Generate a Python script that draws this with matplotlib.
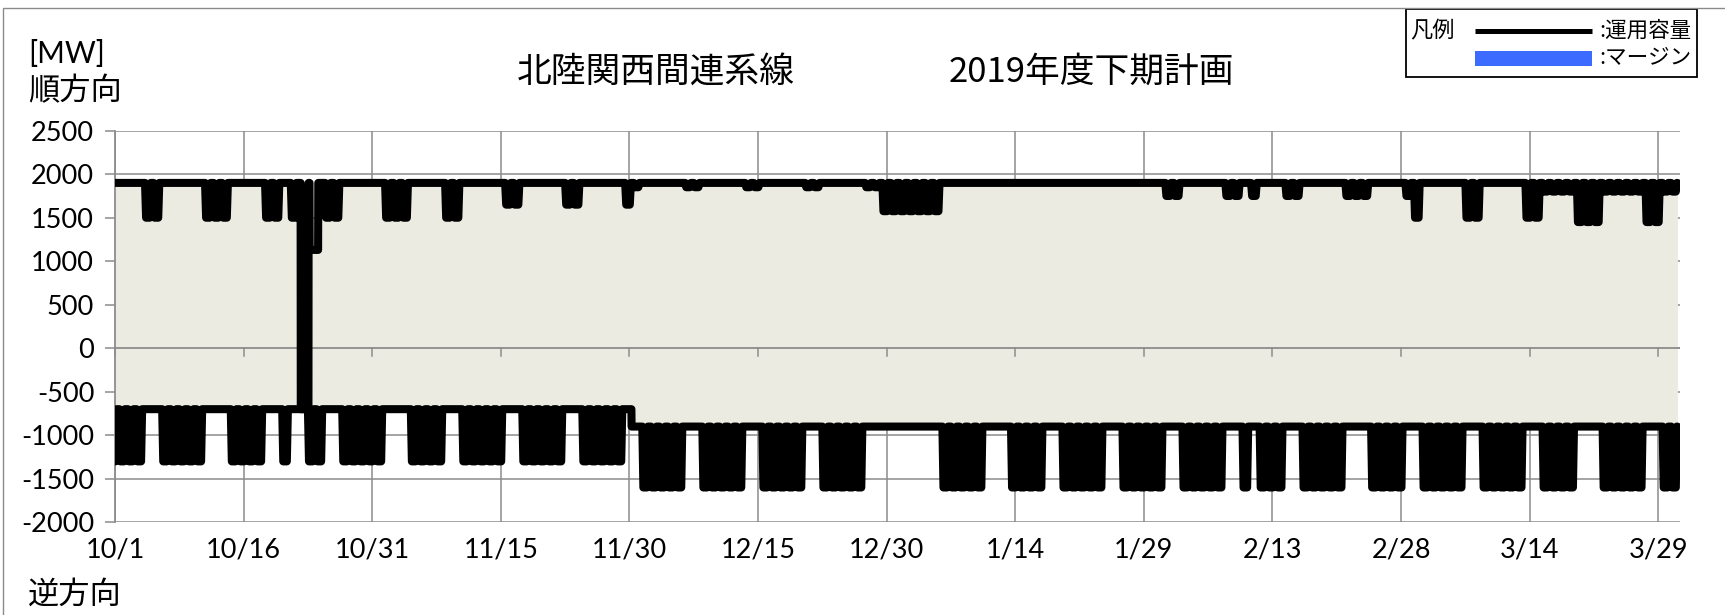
import numpy as np
import pandas as pd
import matplotlib
matplotlib.use('Agg')
import matplotlib.pyplot as plt
from matplotlib.patches import Rectangle
from matplotlib.lines import Line2D

JP = ['Noto Sans CJK JP', 'DejaVu Sans']
NUM = ['Lato', 'Noto Sans CJK JP', 'DejaVu Sans']

W, H = 1725, 615

# ---------------- data (MW, 30 min steps) ----------------
period_start = '2019-10-01'
period_end = '2020-03-31'

# shape of one day: 0 = night value, 1 = daytime value (hour knots)
day_shape_h = [0, 6, 9, 19, 22, 24]
day_shape_w = [0, 0, 1, 1, 0, 0]
label_lag = 0.75                  # date labels sit ~18 h after each day's first slot

# forward direction (順方向): 1900 at night, daytime value below on the listed days
fwd_night = 1900
fwd_day_normal = 1900
fwd_day_changes = [  # (first day, last day, daytime MW)
    ('2019-10-05', '2019-10-06', 1500),
    ('2019-10-12', '2019-10-14', 1500),
    ('2019-10-19', '2019-10-20', 1500),
    ('2019-10-22', '2019-10-22', 1500),
    ('2019-10-26', '2019-10-27', 1500),
    ('2019-11-02', '2019-11-04', 1500),
    ('2019-11-09', '2019-11-10', 1500),
    ('2019-11-16', '2019-11-17', 1650),
    ('2019-11-23', '2019-11-24', 1650),
    ('2019-11-30', '2019-11-30', 1650),
    ('2019-12-01', '2019-12-01', 1850),
    ('2019-12-07', '2019-12-08', 1850),
    ('2019-12-14', '2019-12-15', 1850),
    ('2019-12-21', '2019-12-22', 1850),
    ('2019-12-28', '2019-12-29', 1850),
    ('2019-12-30', '2020-01-05', 1575),
    ('2020-02-01', '2020-02-02', 1750),
    ('2020-02-08', '2020-02-09', 1750),
    ('2020-02-11', '2020-02-11', 1750),
    ('2020-02-15', '2020-02-16', 1750),
    ('2020-02-22', '2020-02-24', 1750),
    ('2020-02-29', '2020-02-29', 1750),
    ('2020-03-01', '2020-03-01', 1500),
    ('2020-03-07', '2020-03-08', 1500),
    ('2020-03-14', '2020-03-15', 1500),
    ('2020-03-16', '2020-03-19', 1800),
    ('2020-03-20', '2020-03-22', 1450),
    ('2020-03-23', '2020-03-27', 1800),
    ('2020-03-28', '2020-03-29', 1450),
    ('2020-03-30', '2020-03-31', 1800),
]
fwd_event = [  # (from, to, MW) excursion around 10/23
    ('2019-10-23 10:00', '2019-10-24 08:00', -700),
    ('2019-10-24 08:00', '2019-10-24 11:00', 1900),
    ('2019-10-24 11:00', '2019-10-25 11:00', 1130),
]

# reverse direction (逆方向): night level, daytime level on business days
rev_levels = [  # (from day, night MW, business-day daytime MW)
    ('2019-10-01', -700, -1300),
    ('2019-12-01', -900, -1600),
]
rev_dip_days = [  # (first day, last day)
    ('2019-10-01', '2019-10-04'), ('2019-10-07', '2019-10-11'),
    ('2019-10-15', '2019-10-18'), ('2019-10-21', '2019-10-21'),
    ('2019-10-24', '2019-10-25'), ('2019-10-28', '2019-11-01'),
    ('2019-11-05', '2019-11-08'), ('2019-11-11', '2019-11-15'),
    ('2019-11-18', '2019-11-22'), ('2019-11-25', '2019-11-29'),
    ('2019-12-02', '2019-12-06'), ('2019-12-09', '2019-12-13'),
    ('2019-12-16', '2019-12-20'), ('2019-12-23', '2019-12-27'),
    ('2020-01-06', '2020-01-10'), ('2020-01-14', '2020-01-17'),
    ('2020-01-20', '2020-01-24'), ('2020-01-27', '2020-01-31'),
    ('2020-02-03', '2020-02-07'), ('2020-02-10', '2020-02-10'),
    ('2020-02-12', '2020-02-14'), ('2020-02-17', '2020-02-21'),
    ('2020-02-25', '2020-02-28'), ('2020-03-02', '2020-03-06'),
    ('2020-03-09', '2020-03-13'), ('2020-03-16', '2020-03-19'),
    ('2020-03-23', '2020-03-27'), ('2020-03-30', '2020-03-31'),
]

y_ticks = [-2000, -1500, -1000, -500, 0, 500, 1000, 1500, 2000, 2500]
x_tick_step = 15

# ---------------- build the 30 min series ----------------
t0 = pd.Timestamp(period_start)
t = pd.date_range(t0, pd.Timestamp(period_end) + pd.Timedelta('23h30min'), freq='30min')
days = t.normalize()
hours = t.hour + t.minute / 60
w = np.interp(hours, day_shape_h, day_shape_w)
all_days = pd.date_range(period_start, period_end)

fwd_day = pd.Series(float(fwd_day_normal), index=all_days)
for a, b, v in fwd_day_changes:
    fwd_day[a:b] = v
fwd = fwd_night + w * (fwd_day.reindex(days).values - fwd_night)
for a, b, v in fwd_event:
    fwd[(t >= pd.Timestamp(a)) & (t < pd.Timestamp(b))] = v

rev_night_d = pd.Series(0.0, index=all_days)
rev_low_d = pd.Series(0.0, index=all_days)
for a, night, low in rev_levels:
    rev_night_d[a:] = night
    rev_low_d[a:] = low
rev_day = rev_night_d.copy()
for a, b in rev_dip_days:
    rev_day[a:b] = rev_low_d[a:b]
rn = rev_night_d.reindex(days).values
rev = rn + w * (rev_day.reindex(days).values - rn)

x = (t - t0) / pd.Timedelta('1D') - label_lag

# ---------------- figure ----------------
fig = plt.figure(figsize=(W / 100, H / 100), dpi=100)
left, right, top, bottom = 115, 1680, 130.7, 522.3
ax = fig.add_axes([left / W, 1 - bottom / H, (right - left) / W, (bottom - top) / H])

grid_c = '#8c8c8c'
ax.fill_between(x, rev, fwd, color='#ecebe1', lw=0, zorder=1)
ax.axhline(0, color=grid_c, lw=1.3, zorder=2)
for s in (fwd, rev):
    ax.plot(x, s, color='black', lw=5.8, solid_joinstyle='round',
            solid_capstyle='round', zorder=3)

x_max = (right - left) / 8.574
ax.set_xlim(0, x_max)
ax.set_ylim(-2000, 2500)

xt = np.arange(0, x_max, x_tick_step)
ax.set_xticks(xt)
ax.set_yticks(y_ticks)
ax.set_yticklabels([str(v) for v in y_ticks], fontfamily=NUM, fontsize=19.5)
ax.grid(True, color=grid_c, lw=1.1, zorder=0)
ax.set_axisbelow(True)
for sp in ('top', 'right'):
    ax.spines[sp].set_visible(False)
ax.spines['left'].set_color(grid_c)
ax.spines['left'].set_linewidth(1.3)
ax.spines['bottom'].set_visible(False)
ax.tick_params(axis='y', direction='out', length=7, width=1.1, color=grid_c, pad=8)
ax.tick_params(axis='x', length=0, labelbottom=False)
# ticks on the zero line
for v in xt:
    ax.plot([v, v], [0, -85], color=grid_c, lw=1.1, zorder=2, clip_on=False)

labels = [(t0 + pd.Timedelta(days=int(d))) for d in xt]
sec = ax.secondary_xaxis('bottom')
sec.set_xticks(xt)
sec.set_xticklabels([f'{d.month}/{d.day}' for d in labels], fontfamily=NUM, fontsize=19.5)
sec.tick_params(length=0, pad=11)
sec.spines['bottom'].set_visible(False)

# ---------------- texts ----------------
def ftext(px, py, s, **kw):
    fig.text(px / W, 1 - py / H, s, **kw)

ftext(28, 54, '[MW]', fontfamily=NUM, fontsize=21.5, va='center', ha='left')
ftext(28, 91, '順方向', fontfamily=JP, fontsize=22.5, va='center', ha='left')
ftext(28, 595, '逆方向', fontfamily=JP, fontsize=22.5, va='center', ha='left')
ftext(517, 72, '北陸関西間連系線', fontfamily=JP, fontsize=25, va='center', ha='left')
ftext(949, 72, '2019年度下期計画', fontfamily=JP, fontsize=25, va='center', ha='left')

# legend box
fig.patches.append(Rectangle((1406 / W, 1 - 77 / H), (1697 - 1406) / W, 68 / H,
                             transform=fig.transFigure, fill=False, ec='black', lw=1.3))
ftext(1410, 31, '凡例', fontfamily=JP, fontsize=16, va='center', ha='left')
fig.lines.append(Line2D([1475 / W, 1592 / W], [1 - 31 / H] * 2, color='black', lw=3.6,
                        solid_capstyle='butt', transform=fig.transFigure))
fig.patches.append(Rectangle((1475 / W, 1 - 66 / H), 117 / W, 15 / H,
                             transform=fig.transFigure, color='#3b6cff', lw=0))
ftext(1599, 31, ':運用容量', fontfamily=JP, fontsize=15.5, va='center', ha='left')
ftext(1599, 58, ':マージン', fontfamily=JP, fontsize=15.5, va='center', ha='left')

# chart area border (cut off at right and bottom in the picture)
fig.patches.append(Rectangle((3 / W, -0.1), 1.2, 1.1 - 8 / H, transform=fig.transFigure,
                             fill=False, ec='#8a8a8a', lw=1.0))

fig.savefig('out.png', dpi=100)
